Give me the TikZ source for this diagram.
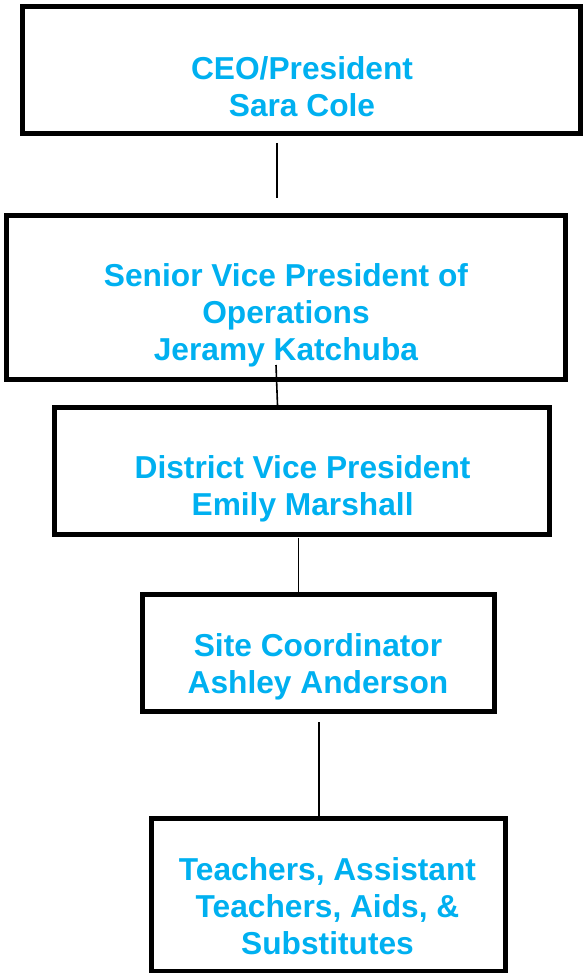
\documentclass[tikz,border=0pt]{standalone}
\usepackage{fontspec}
\setmainfont{Liberation Sans}
\definecolor{titleblue}{HTML}{00B0F0}
\begin{document}
\begin{tikzpicture}[x=1pt,y=-1pt,
  orgbox/.style={draw=black,line width=5pt,rectangle,inner sep=0pt,outer sep=0pt},
  orgtext/.style={anchor=north,inner sep=0pt,outer sep=0pt,align=center,text=titleblue,
    font=\fontsize{31.7}{37}\selectfont\bfseries},
  link/.style={draw=black,line width=1.6pt}]
\useasboundingbox (0,0) rectangle (583,973);

% boxes (centre of border line)
\node[orgbox,minimum width=558,minimum height=127] (ceo) at (301,70) {};
\node[orgbox,minimum width=559,minimum height=163.5] (svp) at (286,297.25) {};
\node[orgbox,minimum width=495.5,minimum height=127.5] (dvp) at (301.75,470.75) {};
\node[orgbox,minimum width=352,minimum height=117] (site) at (318,653) {};
\node[orgbox,minimum width=354,minimum height=153] (staff) at (328,894.5) {};

% titles
\node[orgtext] (ceoT) at (302,56.5) {CEO/President\\Sara Cole};
\node[orgtext] (svpT) at (286,264) {Senior Vice President of\\Operations\\Jeramy Katchuba};
\node[orgtext] (dvpT) at (302.6,455.5) {District Vice President\\Emily Marshall};
\node[orgtext] (siteT) at (318,633.5) {Site Coordinator\\Ashley Anderson};
\node[orgtext] (staffT) at (327.5,858) {Teachers, Assistant\\Teachers, Aids, \&\\Substitutes};

% connector end points
\coordinate (l1a) at (277,143);
\coordinate (l1b) at (277,198);
\coordinate (l2a) at (276,365);
\coordinate (l2b) at (277.5,405);
\coordinate (l3a) at (298.5,538);
\coordinate (l3b) at (298.5,593);
\coordinate (l4a) at (319,722);
\coordinate (l4b) at (319,816);

\draw[link] (l1a) -- (l1b);
\draw[link] (l2a) -- (l2b);
\draw[link] (l3a) -- (l3b);
\draw[link] (l4a) -- (l4b);
\end{tikzpicture}
\end{document}
